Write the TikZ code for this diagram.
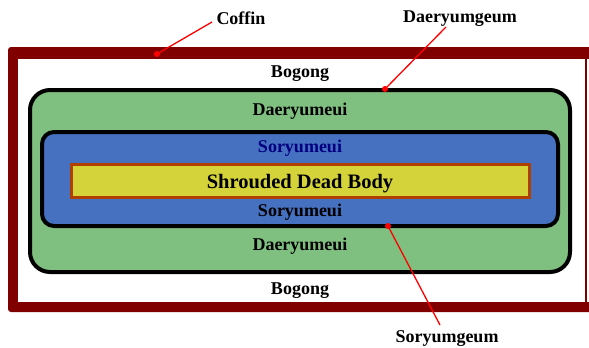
\documentclass[tikz,border=0pt]{standalone}
\usepackage{fontspec}
\setmainfont{Liberation Serif}
\definecolor{coffinred}{RGB}{128,0,0}
\definecolor{dgreen}{RGB}{127,192,128}
\definecolor{sblue}{RGB}{70,112,192}
\definecolor{byellow}{RGB}{212,212,58}
\definecolor{bbrown}{RGB}{176,64,0}
\definecolor{navytext}{RGB}{0,0,128}
\begin{document}
\begin{tikzpicture}[x=1pt,y=-1pt,
  lbl/.style={font=\fontsize{18}{20}\selectfont\bfseries, inner sep=0pt},
  layerbox/.style={draw=black, line width=4pt, inner sep=0pt},
  pointer/.style={draw=red, line width=1.3pt},
  dot/.style={circle, fill=red, inner sep=0pt, minimum size=6pt}]
\useasboundingbox (0,0) rectangle (589,348);
% coffin frame
\fill[coffinred, rounded corners=3pt] (8,47) rectangle (600,312);
\fill[white] (18,59) rectangle (585,302);
\fill[white] (587,59) rectangle (600,302);
% layers
\node[layerbox, fill=dgreen, rounded corners=20pt, minimum width=540pt, minimum height=182pt] (green) at (300,181) {};
\node[layerbox, fill=sblue, rounded corners=12pt, minimum width=516pt, minimum height=94pt] (blue) at (300,179) {};
\node[draw=bbrown, line width=3pt, fill=byellow, minimum width=458pt, minimum height=33pt, inner sep=0pt] (yellow) at (300.5,181) {};
% texts
\node[lbl] (bog1) at (300,74) {Bogong};
\node[lbl] (dae1) at (300,111) {Daeryumeui};
\node[lbl, text=navytext] (sor1) at (300,148) {Soryumeui};
\node[lbl, font=\fontsize{20.5}{22}\selectfont\bfseries] (body) at (300,184) {Shrouded Dead Body};
\node[lbl] (sor2) at (300,212) {Soryumeui};
\node[lbl] (dae2) at (300,246) {Daeryumeui};
\node[lbl] (bog2) at (300,291) {Bogong};
\node[lbl] (coffin) at (241,18) {Coffin};
\node[lbl] (dgeum) at (460,19) {Daeryumgeum};
\node[lbl] (sgeum) at (447,339) {Soryumgeum};
% pointers
\node[dot] (d1) at (157,54) {};
\node[dot] (d2) at (385,89) {};
\node[dot] (d3) at (388,226) {};
\coordinate (c1) at (212,22);
\coordinate (c2) at (446,27);
\coordinate (c3) at (440,325);
\draw[pointer] (c1) -- (d1.center);
\draw[pointer] (c2) -- (d2.center);
\draw[pointer] (d3.center) -- (c3);
\end{tikzpicture}
\end{document}
